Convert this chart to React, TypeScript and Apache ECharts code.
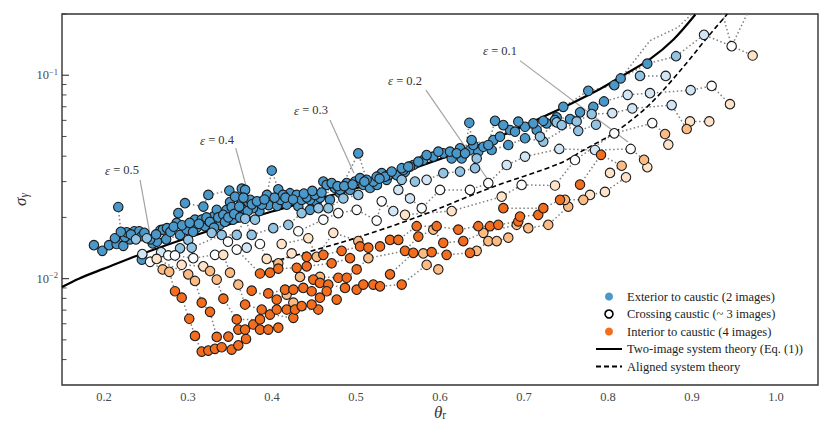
import React, { useEffect, useRef } from 'react';
import * as echarts from 'echarts';

type Pt = [number, number, number];

const FONT = '"Liberation Serif", "DejaVu Serif", serif';

// colour classes: 0 exterior (blue) ... 3 crossing (white) ... 6 interior (orange)
const classColors = ['#4a98ca', '#93c3e2', '#d2e5f4', '#fbfdff', '#fee3c9', '#fdbb84', '#f26d1e'];
const classNames = ['Exterior to caustic (2 images)', 'exterior-light', 'exterior-pale', 'Crossing caustic (~ 3 images)', 'interior-pale', 'interior-light', 'Interior to caustic (4 images)'];

const xMin = 0.15;
const xMax = 1.05;
const yMin = 0.003;
const yMax = 0.2;
const yMajorTicks = [0.01, 0.1];
const yMajorExp = ['−2', '−1'];
const yMinorTicks = [0.004, 0.005, 0.006, 0.007, 0.008, 0.009, 0.02, 0.03, 0.04, 0.05, 0.06, 0.07, 0.08, 0.09, 0.2];

const twoImageTheory = [
  [0.15, 0.0091], [0.17, 0.01], [0.2, 0.0112], [0.24, 0.013], [0.3, 0.0159], [0.4, 0.0214], [0.5, 0.0278],
  [0.57, 0.035], [0.66, 0.0478], [0.73, 0.0644], [0.79, 0.0854], [0.82, 0.101], [0.85, 0.12], [0.878, 0.15], [0.904, 0.199],
];
const alignedTheory = [
  [0.4, 0.0121], [0.481, 0.015], [0.5405, 0.018], [0.58, 0.0206], [0.6595, 0.0279], [0.743, 0.0369], [0.77, 0.0426],
  [0.811, 0.0533], [0.85, 0.0721], [0.889, 0.109], [0.918, 0.153], [0.942, 0.2],
];

const epsNames = ['0.5', '0.4', '0.3', '0.2', '0.1'];
const epsLabelPos = [[0.2214, 0.0342], [0.3345, 0.048], [0.4464, 0.0674], [0.5583, 0.094], [0.6714, 0.1316]];
const epsLineStart = [[0.2429, 0.0306], [0.3568, 0.0438], [0.469, 0.0602], [0.5833, 0.0844], [0.6952, 0.118]];
const epsLineEnd = [[0.2548, 0.0164], [0.3714, 0.0264], [0.4976, 0.033], [0.6595, 0.0296], [0.8238, 0.047]];

const bandLower: Pt[] = [
  [0.188, 0.0146, 0], [0.198, 0.0137, 0], [0.206, 0.0146, 0], [0.215, 0.0148, 0], [0.223, 0.0145, 0], [0.231, 0.0156, 0],
  [0.238, 0.0156, 1], [0.251, 0.0158, 1], [0.258, 0.0149, 0], [0.263, 0.0152, 0], [0.274, 0.0156, 0], [0.2905, 0.0164, 0],
  [0.3003, 0.0155, 1], [0.3104, 0.0178, 0], [0.3202, 0.0181, 0], [0.3282, 0.0168, 1], [0.3381, 0.0184, 0], [0.3536, 0.0195, 0],
  [0.3679, 0.021, 0], [0.3798, 0.0195, 1], [0.385, 0.0215, 0], [0.396, 0.023, 0], [0.406, 0.0228, 0], [0.4175, 0.0231, 0],
  [0.4313, 0.0227, 0], [0.4452, 0.0218, 0], [0.4532, 0.0238, 0], [0.469, 0.0244, 0], [0.4809, 0.0264, 0], [0.4929, 0.0273, 0],
  [0.5087, 0.0289, 0], [0.5167, 0.0279, 0], [0.525, 0.0289, 0], [0.5365, 0.0306, 0], [0.552, 0.0317, 0], [0.5583, 0.0335, 0],
  [0.5682, 0.0362, 0], [0.5801, 0.0383, 0], [0.592, 0.0398, 0], [0.6039, 0.0413, 0], [0.6139, 0.039, 0], [0.6258, 0.039, 0],
  [0.6357, 0.0429, 0], [0.6456, 0.0421, 0], [0.6615, 0.0429, 0], [0.6813, 0.0454, 0], [0.7012, 0.049, 0], [0.723, 0.0472, 1],
  [0.7627, 0.0593, 1], [0.7806, 0.0644, 1], [0.8051, 0.0651, 2], [0.8289, 0.0687, 2], [0.8758, 0.0713, 2], [0.8937, 0.0544, 5],
  [0.8976, 0.0593, 4], [0.9206, 0.0593, 4],
];
const bandMiddle: Pt[] = [
  [0.213, 0.0158, 0], [0.225, 0.016, 0], [0.227, 0.0169, 0], [0.236, 0.0171, 0], [0.242, 0.0171, 0], [0.245, 0.0162, 0],
  [0.255, 0.0156, 0], [0.267, 0.0173, 0], [0.27, 0.0174, 0], [0.275, 0.0177, 0], [0.279, 0.017, 0], [0.2865, 0.0188, 0],
  [0.2985, 0.0174, 0], [0.3083, 0.0195, 0], [0.3163, 0.0195, 0], [0.3301, 0.0202, 0], [0.3342, 0.0218, 0], [0.346, 0.0218, 0],
  [0.35, 0.0238, 0], [0.358, 0.0218, 0], [0.3639, 0.0238, 0], [0.3718, 0.0238, 0], [0.3774, 0.0222, 0], [0.388, 0.0231, 0],
  [0.41, 0.0244, 0], [0.4214, 0.0263, 0], [0.4294, 0.0258, 0], [0.4353, 0.0244, 0], [0.4452, 0.0244, 0], [0.4571, 0.025, 0],
  [0.475, 0.0279, 0], [0.4889, 0.0295, 0], [0.4988, 0.03, 0], [0.5048, 0.0312, 0], [0.5206, 0.03, 0], [0.5306, 0.033, 0],
  [0.5385, 0.0323, 0], [0.5484, 0.0323, 0], [0.5563, 0.0342, 0], [0.5643, 0.0355, 0], [0.5742, 0.0376, 0], [0.5841, 0.0405, 0],
  [0.598, 0.0421, 0], [0.6119, 0.0421, 0], [0.6238, 0.0437, 0], [0.6397, 0.0454, 0], [0.6516, 0.0445, 0], [0.6635, 0.048, 0],
  [0.6714, 0.0499, 0], [0.6833, 0.0538, 0], [0.7012, 0.0558, 0], [0.7151, 0.0538, 0], [0.727, 0.058, 0], [0.7389, 0.0621, 0],
  [0.7548, 0.0609, 0], [0.7667, 0.0657, 0], [0.7825, 0.0699, 0], [0.7952, 0.0743, 0], [0.8234, 0.0801, 2], [0.85, 0.0816, 2],
  [0.8984, 0.0844, 2], [0.9234, 0.0886, 3], [0.9452, 0.0721, 4],
];
const bandUpper: Pt[] = [
  [0.2885, 0.021, 0], [0.2964, 0.0235, 0], [0.3183, 0.0226, 0], [0.3242, 0.0258, 0], [0.3492, 0.0271, 0], [0.356, 0.0253, 0],
  [0.364, 0.0277, 0], [0.368, 0.0273, 0], [0.374, 0.0244, 0], [0.394, 0.0258, 0], [0.3997, 0.034, 0], [0.4075, 0.0275, 0],
  [0.4131, 0.0258, 0], [0.4413, 0.0251, 0], [0.4512, 0.0258, 0], [0.4611, 0.03, 0], [0.4651, 0.0289, 0], [0.471, 0.0295, 0],
  [0.481, 0.0273, 0], [0.5027, 0.0413, 0], [0.5127, 0.0306, 0], [0.5246, 0.0317, 0], [0.5345, 0.0317, 0], [0.5425, 0.0336, 0],
  [0.5544, 0.0349, 0], [0.5622, 0.0355, 0], [0.6198, 0.0413, 0], [0.6298, 0.0413, 0], [0.6349, 0.0584, 0], [0.6377, 0.048, 0],
  [0.6575, 0.0454, 0], [0.6655, 0.0597, 0], [0.6754, 0.0569, 0], [0.6893, 0.0528, 0], [0.6932, 0.0591, 0], [0.7111, 0.058, 0],
  [0.723, 0.0597, 0], [0.7369, 0.0602, 0], [0.7468, 0.0699, 0], [0.7765, 0.0838, 0], [0.8075, 0.0893, 0], [0.8151, 0.0964, 0],
  [0.8468, 0.114, 0], [0.881, 0.124, 1], [0.9143, 0.158, 2], [0.9472, 0.139, 3], [0.9722, 0.125, 4],
];
const bandDense: Pt[] = [
  [0.217, 0.0225, 0], [0.22, 0.017, 0], [0.232, 0.0165, 0], [0.248, 0.0168, 0], [0.262, 0.0165, 0], [0.283, 0.018, 0],
  [0.293, 0.0183, 0], [0.302, 0.0188, 0], [0.306, 0.017, 0], [0.313, 0.0186, 0], [0.322, 0.02, 0], [0.326, 0.019, 0],
  [0.331, 0.0178, 0], [0.336, 0.02, 0], [0.342, 0.0206, 0], [0.344, 0.019, 0], [0.348, 0.02, 0], [0.352, 0.0225, 0],
  [0.355, 0.0208, 0], [0.361, 0.0226, 0], [0.362, 0.02, 0], [0.366, 0.025, 0], [0.371, 0.0215, 0], [0.376, 0.0232, 0],
  [0.382, 0.024, 0], [0.391, 0.0245, 0], [0.403, 0.025, 0], [0.416, 0.025, 0], [0.425, 0.0245, 0], [0.438, 0.0262, 0],
  [0.448, 0.027, 0], [0.459, 0.0265, 0], [0.478, 0.0285, 0], [0.486, 0.0285, 0], [0.496, 0.029, 0], [0.51, 0.03, 0],
  [0.528, 0.031, 0],
];
const bandEdge: Pt[] = [
  [0.2905, 0.0141, 1], [0.3044, 0.0142, 1], [0.3401, 0.0164, 1], [0.358, 0.0164, 1], [0.368, 0.0197, 1], [0.3758, 0.0164, 1],
  [0.4015, 0.0177, 1], [0.4194, 0.0184, 1], [0.4353, 0.021, 1], [0.4552, 0.0222, 1], [0.467, 0.0222, 1], [0.4849, 0.0248, 1],
  [0.5027, 0.0258, 1],
];
const trackL1: Pt[] = [
  [0.245, 0.0124, 0], [0.2548, 0.0121, 3], [0.2698, 0.0111, 5], [0.2777, 0.0108, 5], [0.2845, 0.00867, 6], [0.2925, 0.00806, 6],
  [0.3015, 0.00635, 6], [0.3083, 0.00523, 6], [0.3163, 0.00438, 6], [0.3242, 0.00443, 6], [0.3321, 0.00452, 6], [0.3401, 0.0046, 6],
  [0.352, 0.00448, 6], [0.3599, 0.0047, 6], [0.3691, 0.00505, 6],
];
const trackL2: Pt[] = [
  [0.2456, 0.0132, 2], [0.2627, 0.0125, 4], [0.3003, 0.0105, 5], [0.3083, 0.00974, 5], [0.3163, 0.00762, 6], [0.3262, 0.00687, 6],
  [0.3342, 0.00517, 6], [0.348, 0.00519, 6], [0.3599, 0.00562, 6], [0.3679, 0.00562, 6], [0.3777, 0.00595, 6], [0.3857, 0.00562, 6],
  [0.3956, 0.00562, 6], [0.4075, 0.00574, 6],
];
const trackL3: Pt[] = [
  [0.268, 0.0135, 2], [0.2765, 0.013, 3], [0.2925, 0.0117, 4], [0.3182, 0.0115, 4], [0.3262, 0.0109, 5], [0.3342, 0.00989, 5],
  [0.3421, 0.00797, 6], [0.358, 0.0063, 6], [0.3857, 0.0063, 6], [0.3976, 0.00666, 6], [0.4254, 0.00642, 6],
];
const trackL4: Pt[] = [
  [0.2845, 0.013, 3], [0.3063, 0.0126, 3], [0.3321, 0.0131, 3], [0.342, 0.0131, 4], [0.35, 0.0107, 5], [0.3599, 0.00935, 5],
  [0.3679, 0.00746, 6], [0.3877, 0.00705, 6], [0.4056, 0.00705, 6], [0.4175, 0.00705, 6], [0.4274, 0.00705, 6], [0.4551, 0.00705, 6],
];
const trackL5: Pt[] = [
  [0.3476, 0.0152, 3], [0.358, 0.0139, 3], [0.3857, 0.0106, 6], [0.3976, 0.0107, 6], [0.4075, 0.0112, 6], [0.4294, 0.0113, 6],
  [0.4413, 0.0115, 6], [0.471, 0.0119, 6], [0.4929, 0.0126, 6],
];
const trackL6: Pt[] = [
  [0.3699, 0.0142, 2], [0.3857, 0.0148, 3], [0.3937, 0.0125, 4], [0.4075, 0.0119, 5], [0.4234, 0.0133, 4], [0.4413, 0.0128, 6],
  [0.4611, 0.0131, 6], [0.4829, 0.0137, 6], [0.5048, 0.0144, 6], [0.5147, 0.0142, 6], [0.5286, 0.0144, 6], [0.5405, 0.0155, 6],
  [0.5504, 0.0155, 6], [0.5722, 0.0181, 6], [0.596, 0.0181, 6], [0.6218, 0.0174, 6], [0.6456, 0.0181, 6], [0.6595, 0.0181, 6],
  [0.6694, 0.0184, 6], [0.6932, 0.0191, 6], [0.6952, 0.0202, 6], [0.717, 0.0206, 6],
];
const trackL7: Pt[] = [
  [0.4115, 0.0148, 4], [0.4432, 0.0158, 4], [0.4532, 0.0128, 5], [0.473, 0.0168, 4], [0.5027, 0.0153, 5],
];
const trackM2: Pt[] = [
  [0.4333, 0.0102, 5], [0.4571, 0.0102, 5], [0.4789, 0.0101, 6], [0.4889, 0.0101, 6], [0.5008, 0.0111, 6], [0.5147, 0.0126, 5],
  [0.5583, 0.0137, 6], [0.5742, 0.0161, 6], [0.592, 0.0174, 5], [0.6039, 0.015, 6], [0.6277, 0.0153, 6], [0.6516, 0.0168, 5],
  [0.6913, 0.0184, 5], [0.7051, 0.0177, 5], [0.7289, 0.0184, 5], [0.7527, 0.0226, 5],
];
const trackM3: Pt[] = [
  [0.5405, 0.0105, 6], [0.5682, 0.0134, 6], [0.5801, 0.0133, 5], [0.5901, 0.0135, 6], [0.6079, 0.0131, 6], [0.6357, 0.0134, 6],
  [0.6437, 0.0137, 5], [0.6575, 0.0153, 5], [0.6675, 0.0153, 5], [0.6813, 0.0159, 5],
];
const trackM6: Pt[] = [
  [0.3956, 0.00846, 6], [0.4155, 0.00883, 6], [0.4254, 0.00883, 6], [0.4373, 0.009, 6], [0.4472, 0.00867, 6], [0.4492, 0.00989, 6],
  [0.4571, 0.00953, 6], [0.467, 0.00935, 6], [0.4869, 0.009, 6], [0.5008, 0.00883, 6], [0.5087, 0.00935, 6], [0.5206, 0.00935, 6],
  [0.5286, 0.00917, 6], [0.5544, 0.00935, 6], [0.5841, 0.0117, 5], [0.598, 0.0111, 5],
];
const trackM7: Pt[] = [
  [0.3758, 0.00873, 6], [0.4056, 0.00789, 6], [0.4175, 0.00835, 5], [0.4254, 0.00762, 5], [0.4353, 0.00733, 6], [0.4472, 0.00746, 6],
  [0.4571, 0.00806, 6], [0.4651, 0.00867, 6], [0.477, 0.00789, 6],
];
const trackRA: Pt[] = [
  [0.5544, 0.0306, 1], [0.5702, 0.03, 1], [0.5841, 0.0306, 2], [0.6039, 0.033, 1], [0.6238, 0.0336, 1], [0.6417, 0.0349, 1],
  [0.6437, 0.039, 1],
];
const trackRB: Pt[] = [
  [0.5504, 0.0273, 2], [0.5643, 0.0248, 2], [0.5782, 0.0222, 3], [0.6, 0.0273, 3], [0.6357, 0.0273, 3], [0.6575, 0.0295, 3],
  [0.6794, 0.0362, 2], [0.7012, 0.0398, 2], [0.742, 0.0434, 2], [0.7845, 0.0429, 2], [0.827, 0.0434, 3], [0.8429, 0.0384, 5],
  [0.8468, 0.0353, 4],
];
const trackRC: Pt[] = [
  [0.4313, 0.0171, 3], [0.4611, 0.0195, 3], [0.4789, 0.021, 3], [0.5008, 0.0218, 3], [0.5246, 0.0193, 3], [0.5306, 0.024, 3],
  [0.5444, 0.0215, 2], [0.5583, 0.0206, 4], [0.6139, 0.0215, 4], [0.6734, 0.0253, 4], [0.6972, 0.0289, 3], [0.7369, 0.0287, 4],
  [0.7607, 0.0383, 3], [0.8075, 0.0518, 3], [0.8527, 0.0582, 3], [0.8679, 0.0514, 5], [0.8718, 0.0456, 4],
];
const trackRD: Pt[] = [
  [0.719, 0.0499, 1], [0.7389, 0.0587, 1], [0.7449, 0.0569, 1], [0.7646, 0.0533, 1], [0.7857, 0.0571, 1],
];
const trackRE: Pt[] = [
  [0.6754, 0.0222, 6], [0.723, 0.0222, 6], [0.7429, 0.0244, 6], [0.7488, 0.0244, 5], [0.7706, 0.0244, 5], [0.7786, 0.0258, 4],
  [0.7964, 0.0267, 4], [0.8214, 0.0315, 4],
];
const trackRF: Pt[] = [
  [0.7667, 0.029, 6], [0.7917, 0.0406, 6], [0.8163, 0.0359, 5], [0.8024, 0.0331, 4],
];
const trackRI: Pt[] = [
  [0.8381, 0.0992, 1], [0.8687, 0.0992, 2],
];
// dotted tracks whose further points lie above the plotted range (lines only)
const offRangeA = [[0.8151, 0.0964], [0.85, 0.148], [0.8833, 0.172], [0.905, 0.21]];
const offRangeB = [[0.935, 0.21], [0.9472, 0.139], [0.968, 0.21]];

const allTracks: Pt[][] = [
  bandLower, bandMiddle, bandUpper, bandDense, bandEdge, trackL1, trackL2, trackL3, trackL4, trackL5, trackL6, trackL7,
  trackM2, trackM3, trackM6, trackM7, trackRA, trackRB, trackRC, trackRD, trackRE, trackRF, trackRI,
];

export default function App() {
  const ref = useRef<HTMLDivElement>(null);
  useEffect(() => {
    document.body.style.margin = '0';
    const chart = echarts.init(ref.current!, null, { renderer: 'svg' });
    const allPts = allTracks.flat();
    const dotted = { color: '#808080', width: 1.5, type: [1.5, 2.5] };
    const series: any[] = [];
    allTracks.forEach((t) => {
      series.push({ type: 'line', data: t.map((p) => [p[0], p[1]]), symbol: 'none', silent: true, z: 1, lineStyle: dotted });
    });
    [offRangeA, offRangeB].forEach((t) => {
      series.push({ type: 'line', data: t, symbol: 'none', silent: true, z: 1, clip: true, lineStyle: dotted });
    });
    epsNames.forEach((_, i) => {
      series.push({
        type: 'line', data: [epsLineStart[i], epsLineEnd[i]], symbol: 'none', silent: true, z: 2,
        lineStyle: { color: '#a3a3a3', width: 1.2 },
      });
    });
    series.push({
      name: 'Two-image system theory (Eq. (1))', type: 'line', data: twoImageTheory, symbol: 'none', smooth: 0.3, z: 2,
      lineStyle: { color: '#000', width: 2.2 }, itemStyle: { color: '#000' },
    });
    series.push({
      name: 'Aligned system theory', type: 'line', data: alignedTheory, symbol: 'none', smooth: 0.3, z: 2,
      lineStyle: { color: '#000', width: 1.6, type: [5, 3] }, itemStyle: { color: '#000' },
    });
    classColors.forEach((col, c) => {
      series.push({
        name: classNames[c], type: 'scatter', z: 3, symbolSize: 9.5,
        data: allPts.filter((p) => p[2] === c).map((p) => [p[0], p[1]]),
        itemStyle: { color: col, borderColor: '#1a1a1a', borderWidth: 1.1, opacity: 1 },
      });
    });
    const hiddenSymbol = { color: 'rgba(0,0,0,0)', borderWidth: 0, opacity: 0 };
    const option: any = {
      animation: false,
      grid: { left: 62, right: 13, top: 14, bottom: 51, show: true, borderColor: '#333', borderWidth: 1.4 },
      xAxis: {
        type: 'value', min: xMin, max: xMax, interval: 0.05,
        axisLine: { show: false }, axisTick: { show: false }, splitLine: { show: false },
        axisLabel: {
          margin: 5, color: '#4a4a4a', fontFamily: FONT, fontSize: 12.5,
          formatter: (v: number) => (Math.round(v * 100) % 10 === 0 ? v.toFixed(1) : ''),
        },
      },
      yAxis: {
        type: 'log', logBase: 10, min: yMin, max: yMax,
        axisLine: { show: false }, axisTick: { show: false }, splitLine: { show: false }, axisLabel: { show: false },
      },
      legend: {
        orient: 'vertical', left: 590, top: 285, itemWidth: 26, itemHeight: 8, itemGap: 4.5,
        textStyle: { fontFamily: FONT, fontSize: 12.5, color: '#222', lineHeight: 13 },
        data: [
          { name: classNames[0], icon: 'circle', itemStyle: { color: '#4a98ca', borderWidth: 0 } },
          { name: classNames[3], icon: 'circle', itemStyle: { color: '#fff', borderColor: '#000', borderWidth: 1.6 } },
          { name: classNames[6], icon: 'circle', itemStyle: { color: '#f26d1e', borderWidth: 0 } },
          { name: 'Two-image system theory (Eq. (1))', itemStyle: hiddenSymbol },
          { name: 'Aligned system theory', itemStyle: hiddenSymbol },
        ],
      },
      series,
    };
    chart.setOption(option);

    const x0 = chart.convertToPixel({ xAxisIndex: 0 }, xMin) as number;
    const x1 = chart.convertToPixel({ xAxisIndex: 0 }, xMax) as number;
    const yTop = chart.convertToPixel({ yAxisIndex: 0 }, yMax) as number;
    const yBot = chart.convertToPixel({ yAxisIndex: 0 }, yMin) as number;
    const g: any[] = [];
    yMajorTicks.forEach((v, i) => {
      const py = chart.convertToPixel({ yAxisIndex: 0 }, v) as number;
      g.push({ type: 'line', silent: true, shape: { x1: x0, y1: py, x2: x0 + 7, y2: py }, style: { stroke: '#333', lineWidth: 1.1 } });
      g.push({
        type: 'text', silent: true, x: x0 - 4, y: py,
        style: {
          text: `{b|10}{s|${yMajorExp[i]}}`, align: 'right', verticalAlign: 'middle',
          rich: {
            b: { fontFamily: FONT, fontSize: 12.5, fill: '#4a4a4a', lineHeight: 16 },
            s: { fontFamily: FONT, fontSize: 8.5, fill: '#4a4a4a', lineHeight: 9, verticalAlign: 'top' },
          },
        },
      });
    });
    yMinorTicks.forEach((v) => {
      const py = chart.convertToPixel({ yAxisIndex: 0 }, v) as number;
      g.push({ type: 'line', silent: true, shape: { x1: x0, y1: py, x2: x0 + 4.5, y2: py }, style: { stroke: '#333', lineWidth: 0.9 } });
    });
    g.push({
      type: 'text', silent: true, x: (x0 + x1) / 2, y: 412,
      style: {
        text: '{t|θ}{r|r}', align: 'center', verticalAlign: 'middle',
        rich: {
          t: { fontFamily: FONT, fontSize: 17, fontStyle: 'italic', fill: '#333', lineHeight: 17 },
          r: { fontFamily: FONT, fontSize: 11.5, fill: '#333', lineHeight: 10, verticalAlign: 'bottom' },
        },
      },
    });
    g.push({
      type: 'text', silent: true, x: 20, y: (yTop + yBot) / 2, rotation: Math.PI / 2,
      style: {
        text: '{s|σ}{g|γ}', align: 'center', verticalAlign: 'middle',
        rich: {
          s: { fontFamily: FONT, fontSize: 17, fontStyle: 'italic', fill: '#333', lineHeight: 20 },
          g: { fontFamily: FONT, fontSize: 11.5, fontStyle: 'italic', fill: '#333', lineHeight: 12, verticalAlign: 'bottom' },
        },
      },
    });
    epsNames.forEach((n, i) => {
      const p = chart.convertToPixel({ gridIndex: 0 }, epsLabelPos[i]) as number[];
      g.push({
        type: 'text', silent: true, x: p[0], y: p[1],
        style: {
          text: `{e|ε}{n| = ${n}}`, align: 'center', verticalAlign: 'middle',
          rich: {
            e: { fontFamily: FONT, fontSize: 13, fontStyle: 'italic', fill: '#333' },
            n: { fontFamily: FONT, fontSize: 12.5, fill: '#333' },
          },
        },
      });
    });
    chart.setOption({ graphic: g });
    return () => chart.dispose();
  }, []);
  return <div ref={ref} style={{ width: 831, height: 436 }} />;
}
